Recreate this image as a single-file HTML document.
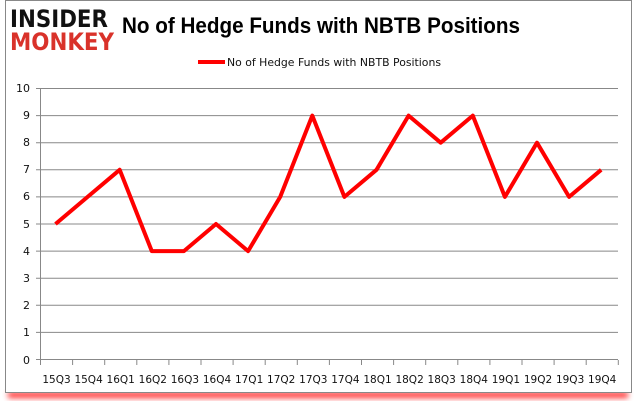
<!DOCTYPE html>
<html><head><style>
body{margin:0;background:#fff;width:636px;height:405px;overflow:hidden;font-family:"Liberation Sans",sans-serif}
</style></head><body>
<svg width="636" height="405" xmlns="http://www.w3.org/2000/svg">
<defs><filter id="b" x="-5%" y="-50%" width="110%" height="200%"><feGaussianBlur stdDeviation="3"/></filter></defs>
<rect x="8" y="392" width="620" height="6" fill="#f00" filter="url(#b)" opacity="0.8"/>
<rect x="5.5" y="0.5" width="626" height="392" fill="#fff" stroke="#888"/>
<text x="10" y="27" font-size="24" font-weight="bold" fill="#111" font-family="DejaVu Sans" textLength="98" lengthAdjust="spacingAndGlyphs">INSIDER</text>
<text x="10" y="50" font-size="24" font-weight="bold" fill="#d9322a" font-family="DejaVu Sans" textLength="104" lengthAdjust="spacingAndGlyphs">MONKEY</text>
<text x="122" y="33" font-size="22" font-weight="bold" fill="#000" font-family="Liberation Sans" textLength="398" lengthAdjust="spacingAndGlyphs">No of Hedge Funds with NBTB Positions</text>
<line x1="198" y1="62" x2="225" y2="62" stroke="#f00" stroke-width="4"/>
<text x="227" y="66" font-size="11" fill="#111" font-family="DejaVu Sans" textLength="214" lengthAdjust="spacingAndGlyphs">No of Hedge Funds with NBTB Positions</text>
<g stroke="#888" stroke-width="1">
<line x1="40.5" y1="88.5" x2="618" y2="88.5"/><line x1="40.5" y1="115.6" x2="618" y2="115.6"/><line x1="40.5" y1="142.7" x2="618" y2="142.7"/><line x1="40.5" y1="169.8" x2="618" y2="169.8"/><line x1="40.5" y1="196.9" x2="618" y2="196.9"/><line x1="40.5" y1="224" x2="618" y2="224"/><line x1="40.5" y1="251.1" x2="618" y2="251.1"/><line x1="40.5" y1="278.2" x2="618" y2="278.2"/><line x1="40.5" y1="305.3" x2="618" y2="305.3"/><line x1="40.5" y1="332.4" x2="618" y2="332.4"/><line x1="36" y1="359.5" x2="618" y2="359.5"/>
<line x1="40.5" y1="88" x2="40.5" y2="360"/>
<path d="M40.5 360v5M72.6 360v5M104.7 360v5M136.8 360v5M168.9 360v5M201 360v5M233.1 360v5M265.2 360v5M297.3 360v5M329.4 360v5M361.5 360v5M393.6 360v5M425.7 360v5M457.8 360v5M489.9 360v5M522 360v5M554.1 360v5M586.2 360v5M618.3 360v5"/>
<path d="M36 88.5h5M36 115.6h5M36 142.7h5M36 169.8h5M36 196.9h5M36 224h5M36 251.1h5M36 278.2h5M36 305.3h5M36 332.4h5"/>
</g>
<g font-size="11" fill="#111" text-anchor="end" font-family="DejaVu Sans">
<text x="30" y="92">10</text><text x="30" y="119">9</text><text x="30" y="146">8</text><text x="30" y="173">7</text><text x="30" y="200">6</text><text x="30" y="228">5</text><text x="30" y="255">4</text><text x="30" y="282">3</text><text x="30" y="309">2</text><text x="30" y="336">1</text><text x="30" y="364">0</text>
</g>
<g font-size="10.5" fill="#111" text-anchor="middle" font-family="DejaVu Sans">
<text x="56.5" y="383">15Q3</text><text x="88.6" y="383">15Q4</text><text x="120.7" y="383">16Q1</text><text x="152.8" y="383">16Q2</text><text x="184.9" y="383">16Q3</text><text x="217" y="383">16Q4</text><text x="249.1" y="383">17Q1</text><text x="281.2" y="383">17Q2</text><text x="313.3" y="383">17Q3</text><text x="345.4" y="383">17Q4</text><text x="377.5" y="383">18Q1</text><text x="409.6" y="383">18Q2</text><text x="441.7" y="383">18Q3</text><text x="473.8" y="383">18Q4</text><text x="505.9" y="383">19Q1</text><text x="538" y="383">19Q2</text><text x="570.1" y="383">19Q3</text><text x="602.2" y="383">19Q4</text>
</g>
<polyline fill="none" stroke="#f00" stroke-width="4" stroke-linejoin="round" points="55.5,224 87.6,196.9 119.7,169.8 151.8,251.1 183.9,251.1 216,224 248.1,251.1 280.2,196.9 312.3,115.6 344.4,196.9 376.5,169.8 408.6,115.6 440.7,142.7 472.8,115.6 504.9,196.9 537,142.7 569.1,196.9 601.2,169.8"/>
</svg>
</body></html>
